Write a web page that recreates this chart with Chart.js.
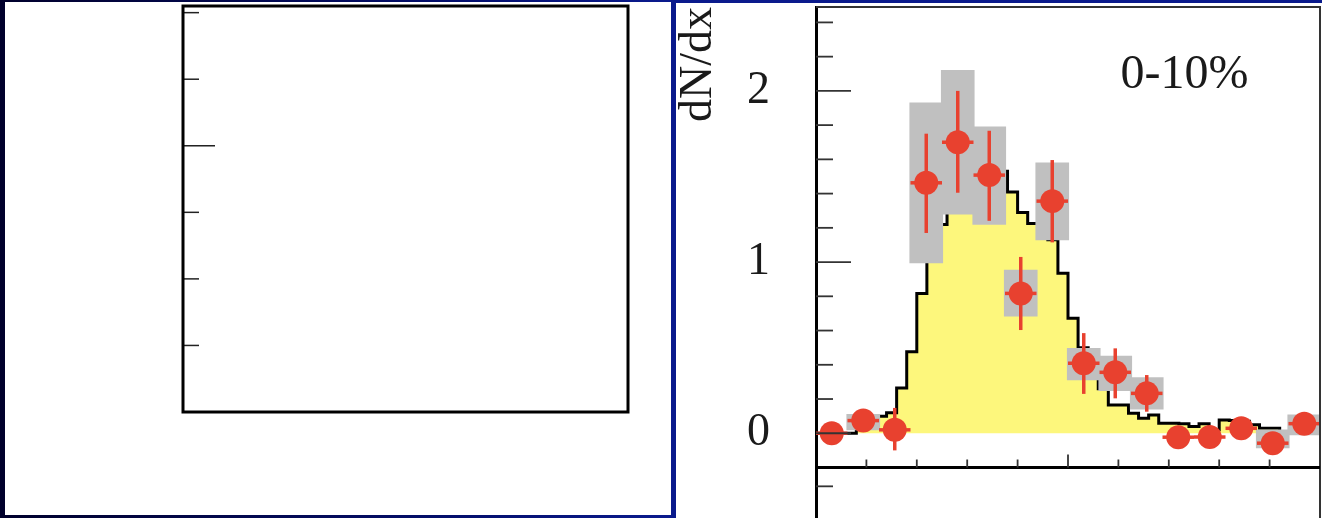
<!DOCTYPE html>
<html>
<head>
<meta charset="utf-8">
<script src="https://cdn.jsdelivr.net/npm/chart.js@4.4.1/dist/chart.umd.min.js"></script>
<style>
  html, body { margin: 0; padding: 0; }
  body {
    width: 1322px; height: 518px; overflow: hidden; position: relative;
    background: linear-gradient(to right, #00002c 0%, #040f6e 35%, #0a1a8c 50%, #0a1a8c 100%);
  }
  .panel { position: absolute; background: #fff; }
  #leftPanel { left: 5px; top: 2px; width: 666px; height: 513px; }
  #rightPanel { left: 676px; top: 3px; width: 646px; height: 515px; }
  canvas { display: block; }
</style>
</head>
<body>
<div class="panel" id="leftPanel"><canvas id="leftChart"></canvas></div>
<div class="panel" id="rightPanel"><canvas id="rightChart"></canvas></div>
<script>
// ---- left (empty) frame ----
var leftTicks = [1, 2, 3, 4, 5, 6];
var leftMajorTicks = [4];

// ---- right panel data ----
var pointX = [0.5, 1.5, 2.5, 3.5, 4.5, 5.5, 6.5, 7.5, 8.5, 9.5, 10.5, 11.5, 12.5, 13.5, 14.5, 15.5];
var pointY = [0.0, 0.074, 0.02, 1.463, 1.70, 1.508, 0.817, 1.356, 0.409, 0.356, 0.233, -0.023, -0.022, 0.029, -0.058, 0.056];
var statLow  = [null, null, -0.10, 1.17, 1.405, 1.241, 0.603, 1.115, 0.23, 0.204, 0.126, null, null, null, null, null];
var statHigh = [null, null, 0.148, 1.75, 2.0, 1.767, 1.03, 1.596, 0.585, 0.496, 0.34, null, null, null, null, null];
var sysLow  = [null, 0.02, null, 0.995, 1.28, 1.22, 0.684, 1.13, 0.311, 0.249, 0.14, null, null, null, -0.085, -0.01];
var sysHigh = [null, 0.11, null, 1.93, 2.12, 1.79, 0.953, 1.58, 0.496, 0.451, 0.325, null, null, null, 0.02, 0.107];

// model histogram, 50 bins over the 16 data bins
var histStart = 0;
var histBinWidth = 0.32;
var histValues = [
  0.0, 0.0, 0.0, 0.0, 0.03, 0.06, 0.10, 0.12, 0.265, 0.476,
  0.816, 1.05, 1.22, 1.33, 1.42, 1.48, 1.52, 1.55, 1.53, 1.41,
  1.29, 1.225, 1.18, 1.13, 0.934, 0.672, 0.50, 0.36, 0.26, 0.165,
  0.165, 0.117, 0.088, 0.107, 0.058, 0.058, 0.055, 0.039, 0.055, 0.02,
  0.078, 0.074, 0.07, 0.05, 0.03, 0.03, 0.005, 0.01, 0.01, 0.01
];

var yMajorTicks = [0, 1, 2];
var yTickLabels = ['0', '1', '2'];
var yMinorTicks = [0.2, 0.4, 0.6, 0.8, 1.2, 1.4, 1.6, 1.8, 2.2, 2.4];
var lowerPanelTicks = [-0.31];
var xMinorTicks = [1.6, 3.2, 4.8, 6.4, 9.6, 11.2, 12.8, 14.4];
var xMajorTicks = [8];
var xAxisLevel = -0.2;

var centralityLabel = '0-10%';
var labelX = 11.7;
var labelY = 2.09;

var RED = 'rgb(232,65,47)';
var GREY = 'rgb(192,192,192)';
var YELLOW = 'rgb(253,247,124)';

// left chart: empty axes box with inward ticks
var leftFrame = {
  id: 'leftFrame',
  afterDraw: function (chart) {
    var ctx = chart.ctx, a = chart.chartArea, y = chart.scales.y;
    ctx.save();
    ctx.strokeStyle = '#222';
    ctx.lineWidth = 1.5;
    leftTicks.forEach(function (v) {
      var py = y.getPixelForValue(v);
      var len = leftMajorTicks.indexOf(v) >= 0 ? 32 : 16;
      ctx.beginPath();
      ctx.moveTo(a.left, py);
      ctx.lineTo(a.left + len, py);
      ctx.stroke();
    });
    ctx.strokeStyle = '#000';
    ctx.lineWidth = 3;
    ctx.strokeRect(a.left, a.top, a.right - a.left, a.bottom - a.top);
    ctx.restore();
  }
};

new Chart(document.getElementById('leftChart'), {
  type: 'scatter',
  data: { datasets: [] },
  options: {
    responsive: true,
    maintainAspectRatio: false,
    animation: false,
    layout: { autoPadding: false, padding: { left: 178, top: 4, right: 43, bottom: 103 } },
    plugins: { legend: { display: false }, tooltip: { enabled: false } },
    scales: {
      x: { type: 'linear', min: 0, max: 1, display: false },
      y: { type: 'linear', min: 0, max: 6.1, display: false }
    }
  },
  plugins: [leftFrame]
});

// right chart helpers
var errorBars = {
  id: 'errorBars',
  beforeDatasetDraw: function (chart, args) {
    if (args.index !== 2) return;
    var ctx = chart.ctx, x = chart.scales.x, y = chart.scales.y;
    ctx.save();
    ctx.strokeStyle = RED;
    ctx.lineWidth = 3.5;
    for (var i = 0; i < pointX.length; i++) {
      var px = x.getPixelForValue(pointX[i]);
      var py = y.getPixelForValue(pointY[i]);
      if (statLow[i] !== null) {
        ctx.beginPath();
        ctx.moveTo(px, y.getPixelForValue(statLow[i]));
        ctx.lineTo(px, y.getPixelForValue(statHigh[i]));
        ctx.stroke();
      }
      ctx.beginPath();
      ctx.moveTo(x.getPixelForValue(pointX[i] - 0.5), py);
      ctx.lineTo(x.getPixelForValue(pointX[i] + 0.5), py);
      ctx.stroke();
    }
    ctx.restore();
  }
};

var rightFrame = {
  id: 'rightFrame',
  afterDraw: function (chart) {
    var ctx = chart.ctx, a = chart.chartArea, x = chart.scales.x, y = chart.scales.y;
    ctx.save();
    // top and right frame
    ctx.strokeStyle = '#333';
    ctx.lineWidth = 2;
    ctx.beginPath();
    ctx.moveTo(a.left, a.top);
    ctx.lineTo(a.right, a.top);
    ctx.lineTo(a.right, a.bottom);
    ctx.stroke();
    // inward y ticks
    ctx.strokeStyle = '#333';
    ctx.lineWidth = 1.8;
    yMajorTicks.forEach(function (v) {
      var py = y.getPixelForValue(v);
      ctx.beginPath(); ctx.moveTo(a.left, py); ctx.lineTo(a.left + 35, py); ctx.stroke();
    });
    yMinorTicks.concat(lowerPanelTicks).forEach(function (v) {
      var py = y.getPixelForValue(v);
      ctx.beginPath(); ctx.moveTo(a.left, py); ctx.lineTo(a.left + 17, py); ctx.stroke();
    });
    // horizontal axis of the upper panel
    var ay = y.getPixelForValue(xAxisLevel);
    ctx.strokeStyle = '#000';
    ctx.lineWidth = 3;
    ctx.beginPath(); ctx.moveTo(a.left, ay); ctx.lineTo(a.right, ay); ctx.stroke();
    ctx.strokeStyle = '#333';
    ctx.lineWidth = 1.8;
    xMinorTicks.forEach(function (v) {
      var px = x.getPixelForValue(v);
      ctx.beginPath(); ctx.moveTo(px, ay); ctx.lineTo(px, ay - 8); ctx.stroke();
    });
    xMajorTicks.forEach(function (v) {
      var px = x.getPixelForValue(v);
      ctx.beginPath(); ctx.moveTo(px, ay); ctx.lineTo(px, ay - 13); ctx.stroke();
    });
    // centrality label
    ctx.fillStyle = '#1a1a1a';
    ctx.font = '48px "Liberation Serif"';
    ctx.textAlign = 'center';
    ctx.textBaseline = 'middle';
    ctx.fillText(centralityLabel, x.getPixelForValue(labelX), y.getPixelForValue(labelY));
    ctx.restore();
  }
};

var histData = histValues.map(function (v, i) {
  return { x: histStart + i * histBinWidth, y: v };
});
histData.push({ x: histStart + histValues.length * histBinWidth, y: histValues[histValues.length - 1] });

var sysData = [];
for (var i = 0; i < pointX.length; i++) {
  if (sysLow[i] !== null) sysData.push({ x: pointX[i], y: [sysLow[i], sysHigh[i]] });
}

var pointData = pointX.map(function (v, i) { return { x: v, y: pointY[i] }; });

new Chart(document.getElementById('rightChart'), {
  type: 'scatter',
  data: {
    datasets: [
      {
        type: 'line',
        data: histData,
        stepped: true,
        showLine: true,
        fill: 'origin',
        backgroundColor: YELLOW,
        borderColor: '#000',
        borderWidth: 3,
        pointRadius: 0,
        order: 3
      },
      {
        type: 'bar',
        data: sysData,
        backgroundColor: GREY,
        borderWidth: 0,
        barThickness: 33,
        order: 2
      },
      {
        type: 'scatter',
        data: pointData,
        backgroundColor: RED,
        pointRadius: 12,
        pointBorderWidth: 0,
        order: 1
      }
    ]
  },
  options: {
    responsive: true,
    maintainAspectRatio: false,
    animation: false,
    layout: { autoPadding: false, padding: { left: 0, top: 4, right: 2, bottom: 0 } },
    plugins: { legend: { display: false }, tooltip: { enabled: false } },
    scales: {
      x: { type: 'linear', min: 0, max: 16, display: false, offset: false },
      y: {
        type: 'linear',
        min: -0.495,
        max: 2.49,
        afterBuildTicks: function (s) {
          s.ticks = yMajorTicks.map(function (v) { return { value: v }; });
        },
        afterFit: function (s) {
          s.width = 140;
          s.paddingTop = 0;
          s.paddingBottom = 0;
        },
        grid: { display: true, drawOnChartArea: false, drawTicks: false },
        border: { display: true, color: '#000', width: 3 },
        ticks: {
          padding: 46,
          color: '#1a1a1a',
          font: { family: 'Liberation Serif', size: 46 },
          callback: function (v, i) { return yTickLabels[i]; }
        },
        title: {
          display: true,
          text: 'dN/dx',
          align: 'end',
          color: '#1a1a1a',
          font: { family: 'Liberation Serif', size: 46, lineHeight: 1 },
          padding: 0
        }
      }
    }
  },
  plugins: [errorBars, rightFrame]
});
</script>
</body>
</html>
